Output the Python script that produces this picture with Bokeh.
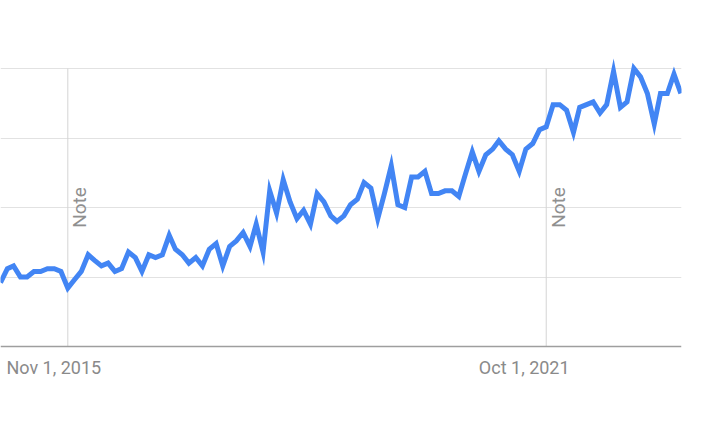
import math
import pandas as pd
from bokeh.plotting import figure
from bokeh.models import FixedTicker, Range1d, Span
from bokeh.core.properties import value
from bokeh.embed import file_html
from bokeh.resources import INLINE

# ---- data ----
months = pd.date_range("2015-01-01", periods=102, freq="MS")
interest = [23, 28, 29, 25, 25, 27, 27, 28, 28, 27,
            21, 24, 27, 33, 31, 29, 30, 27, 28, 34,
            32, 27, 33, 32, 33, 40, 35, 33, 30, 32,
            29, 35, 37, 29, 36, 38, 41, 36, 44, 34,
            56, 48, 60, 52, 46, 49, 44, 55, 52, 47,
            45, 47, 51, 53, 59, 57, 46, 55, 65, 51,
            50, 61, 61, 63, 55, 55, 56, 56, 54, 62,
            70, 63, 69, 71, 74, 71, 69, 63, 71, 73,
            78, 79, 87, 87, 85, 77, 86, 87, 88, 84,
            87, 99, 86, 88, 100, 97, 91, 80, 91, 91,
            98, 91]
tick_dates = [pd.Timestamp("2015-11-01"), pd.Timestamp("2021-10-01")]
tick_labels = ["Nov 1, 2015", "Oct 1, 2021"]
note_texts = ["Note", "Note"]
grid_values = [25, 50, 75, 100]

# ---- figure ----
p = figure(width=695, height=400, output_backend="svg", toolbar_location=None,
           x_axis_type="datetime",
           x_range=Range1d(pd.Timestamp("2015-01-01"), pd.Timestamp("2023-06-04")),
           y_range=Range1d(-19.42, 124.46),
           min_border_left=0, min_border_top=0, min_border_right=14,
           min_border_bottom=0)
p.outline_line_color = None
p.background_fill_color = "white"
p.border_fill_color = "white"

p.xaxis.visible = False
p.yaxis.visible = False
p.xgrid.visible = False
p.ygrid.ticker = FixedTicker(ticks=grid_values)
p.ygrid.grid_line_color = "#e2e2e2"
p.ygrid.grid_line_width = 1

# baseline (axis line) at zero
p.add_layout(Span(location=0, dimension="width", line_color="#9e9e9e",
                  line_width=1.5))

# note lines
p.segment(x0=tick_dates, y0=[0] * len(tick_dates), x1=tick_dates,
          y1=[grid_values[-1]] * len(tick_dates),
          line_color="#d4d4d4", line_width=1)

# series
p.line(months, interest, line_color="#4285f4", line_width=5, line_join="miter")

# note texts
p.text(x=tick_dates, y=[grid_values[1]] * len(tick_dates), text=note_texts,
       angle=math.pi / 2, text_align="center", text_baseline="alphabetic",
       x_offset=12, text_font=value("Roboto"), text_font_size="19px",
       text_color="#8f8f8f")

# tick labels
label_offsets = [-14, -22]
p.text(x=tick_dates, y=[0] * len(tick_dates), text=tick_labels,
       x_offset=label_offsets, y_offset=21,
       text_align="center", text_baseline="alphabetic",
       text_font=value("Roboto"), text_font_size="18px",
       text_color="#8a8a8a")

open("out.html", "w").write(file_html(p, INLINE))
